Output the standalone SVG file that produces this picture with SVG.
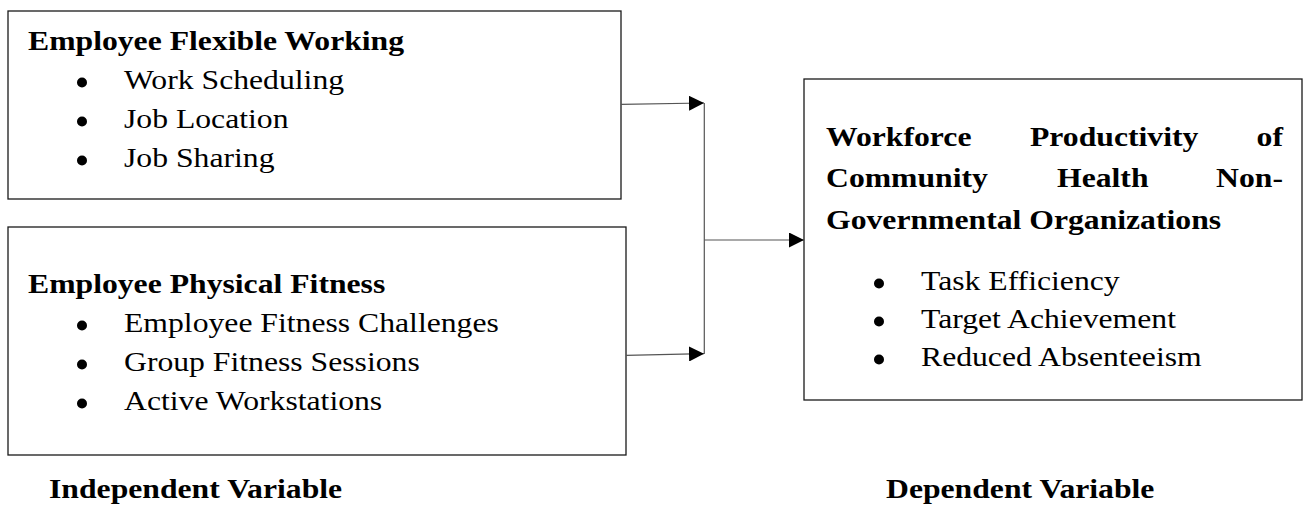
<svg xmlns="http://www.w3.org/2000/svg" width="1304" height="507" viewBox="0 0 1304 507">
<defs>
<style>
.box{fill:#fff;stroke:#1a1a1a;stroke-width:1.3}
.t{font-family:"Liberation Serif","Times New Roman",serif;font-size:28px;fill:#000}
.b{font-weight:bold}
.bul{fill:#000}
.con{fill:none;stroke:#555;stroke-width:1.2}
</style>
<marker id="ah" markerWidth="15" markerHeight="15" viewBox="0 0 15 15" refX="15" refY="7.5" orient="auto" markerUnits="userSpaceOnUse">
<path d="M0,0 L15,7.5 L0,15 Z" fill="#000"/>
</marker>
</defs>
<rect width="1304" height="507" fill="#fff"/>
<g id="flexible-working">
<rect class="box" x="8" y="11" width="613" height="188"/>
<text class="t b" transform="translate(28 50) scale(1.132 1)">Employee Flexible Working</text>
<circle class="bul" cx="82" cy="82.5" r="5"/>
<text class="t" transform="translate(124 89) scale(1.132 1)">Work Scheduling</text>
<circle class="bul" cx="82" cy="121.5" r="5"/>
<text class="t" transform="translate(124 128) scale(1.132 1)">Job Location</text>
<circle class="bul" cx="82" cy="160.5" r="5"/>
<text class="t" transform="translate(124 167) scale(1.132 1)">Job Sharing</text>
</g>
<g id="physical-fitness">
<rect class="box" x="8" y="227" width="618" height="228"/>
<text class="t b" transform="translate(28 293) scale(1.132 1)">Employee Physical Fitness</text>
<circle class="bul" cx="82" cy="325.5" r="5"/>
<text class="t" transform="translate(124 332) scale(1.132 1)">Employee Fitness Challenges</text>
<circle class="bul" cx="82" cy="364.5" r="5"/>
<text class="t" transform="translate(124 371) scale(1.132 1)">Group Fitness Sessions</text>
<circle class="bul" cx="82" cy="403.5" r="5"/>
<text class="t" transform="translate(124 410) scale(1.132 1)">Active Workstations</text>
</g>
<g id="workforce-productivity">
<rect class="box" x="804" y="79" width="498" height="321"/>
<text class="t b" transform="translate(826 146) scale(1.132 1)">Workforce</text>
<text class="t b" transform="translate(1030 146) scale(1.132 1)">Productivity</text>
<text class="t b" text-anchor="end" transform="translate(1283 146) scale(1.132 1)">of</text>
<text class="t b" transform="translate(826 187) scale(1.132 1)">Community</text>
<text class="t b" transform="translate(1057 187) scale(1.132 1)">Health</text>
<text class="t b" text-anchor="end" transform="translate(1283 187) scale(1.132 1)">Non-</text>
<text class="t b" transform="translate(826 229) scale(1.132 1)">Governmental Organizations</text>
<circle class="bul" cx="879" cy="283.5" r="5"/>
<text class="t" transform="translate(921 290) scale(1.132 1)">Task Efficiency</text>
<circle class="bul" cx="879" cy="321.5" r="5"/>
<text class="t" transform="translate(921 328) scale(1.132 1)">Target Achievement</text>
<circle class="bul" cx="879" cy="359.5" r="5"/>
<text class="t" transform="translate(921 366) scale(1.132 1)">Reduced Absenteeism</text>
</g>
<g id="labels">
<text class="t b" transform="translate(49 498) scale(1.132 1)">Independent Variable</text>
<text class="t b" transform="translate(886 498) scale(1.132 1)">Dependent Variable</text>
</g>
<g id="connectors">
<line class="con" x1="621" y1="104.3" x2="704" y2="103" marker-end="url(#ah)"/>
<line class="con" x1="626" y1="355.3" x2="704" y2="353.7" marker-end="url(#ah)"/>
<line class="con" x1="704.3" y1="103" x2="704.3" y2="354"/>
<line class="con" x1="704.3" y1="240" x2="804" y2="240" marker-end="url(#ah)"/>
</g>
</svg>
